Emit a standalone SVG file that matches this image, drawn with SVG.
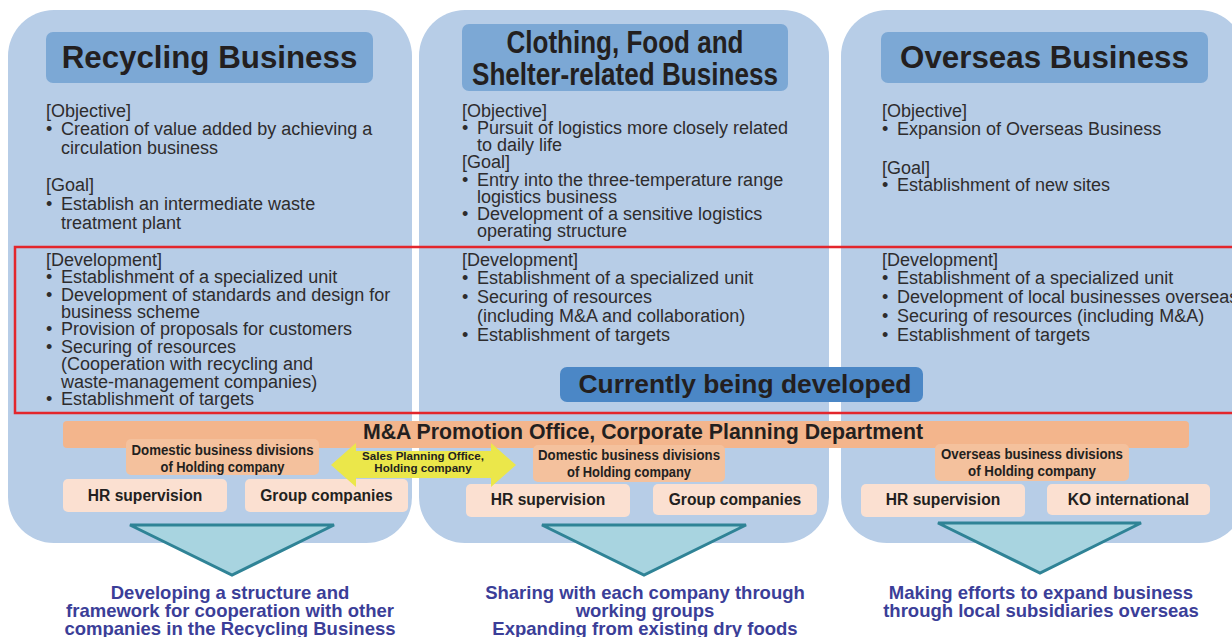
<svg xmlns="http://www.w3.org/2000/svg" width="1232" height="637" viewBox="0 0 1232 637">
  <style>
    .panel { fill: #b7cde7; }
    .title { fill: #7ca8d5; }
    .ttl { font-family: "Liberation Sans", Arial, sans-serif; font-weight: bold; font-size: 31.3px; fill: #231f20; text-anchor: middle; }
    .body { font-family: "Liberation Sans", Arial, sans-serif; font-size: 18px; fill: #2e2c2d; }
    .dom { fill: #f4c19d; }
    .sub { fill: #fbe0d1; }
    .small { font-family: "Liberation Sans", Arial, sans-serif; font-weight: bold; fill: #231f20; text-anchor: middle; }
    .tri { fill: #a8d4e0; stroke: #2f8396; stroke-width: 3; stroke-linejoin: miter; }
    .result { font-family: "Liberation Sans", Arial, sans-serif; font-weight: bold; font-size: 18.5px; fill: #3b3e98; text-anchor: middle; }
  </style>

  <rect x="0" y="0" width="1232" height="637" fill="#ffffff"/>

  <!-- Recycling Business column -->
  <g id="recycling">
    <rect class="panel" x="8" y="10" width="404" height="533" rx="46"/>
    <rect class="title" x="46" y="32" width="327" height="51" rx="7"/>
    <text class="ttl" x="209.5" y="68">Recycling Business</text>
    <g class="body">
      <text x="46" y="117">[Objective]</text>
      <text x="46" y="135">•<tspan x="61">Creation of value added by achieving a</tspan></text>
      <text x="61" y="154">circulation business</text>
      <text x="46" y="191">[Goal]</text>
      <text x="46" y="210">•<tspan x="61">Establish an intermediate waste</tspan></text>
      <text x="61" y="229">treatment plant</text>
      <text x="46" y="266">[Development]</text>
      <text x="46" y="283">•<tspan x="61">Establishment of a specialized unit</tspan></text>
      <text x="46" y="301">•<tspan x="61">Development of standards and design for</tspan></text>
      <text x="61" y="318">business scheme</text>
      <text x="46" y="335">•<tspan x="61">Provision of proposals for customers</tspan></text>
      <text x="46" y="353">•<tspan x="61">Securing of resources</tspan></text>
      <text x="61" y="370">(Cooperation with recycling and</text>
      <text x="61" y="388">waste-management companies)</text>
      <text x="46" y="405">•<tspan x="61">Establishment of targets</tspan></text>
    </g>
  </g>

  <!-- Clothing, Food and Shelter-related Business column -->
  <g id="clothing-food-shelter">
    <rect class="panel" x="419" y="10" width="410" height="533" rx="46"/>
    <rect class="title" x="462" y="24" width="326" height="67" rx="7"/>
    <text class="ttl" x="625" y="53" font-size="30" textLength="237" lengthAdjust="spacingAndGlyphs">Clothing, Food and</text>
    <text class="ttl" x="625" y="85" font-size="30" textLength="306" lengthAdjust="spacingAndGlyphs">Shelter-related Business</text>
    <g class="body">
      <text x="462" y="117">[Objective]</text>
      <text x="462" y="134">•<tspan x="477">Pursuit of logistics more closely related</tspan></text>
      <text x="477" y="151">to daily life</text>
      <text x="462" y="168">[Goal]</text>
      <text x="462" y="186">•<tspan x="477">Entry into the three-temperature range</tspan></text>
      <text x="477" y="203">logistics business</text>
      <text x="462" y="220">•<tspan x="477">Development of a sensitive logistics</tspan></text>
      <text x="477" y="237">operating structure</text>
      <text x="462" y="266">[Development]</text>
      <text x="462" y="284">•<tspan x="477">Establishment of a specialized unit</tspan></text>
      <text x="462" y="303">•<tspan x="477">Securing of resources</tspan></text>
      <text x="477" y="322">(including M&amp;A and collaboration)</text>
      <text x="462" y="341">•<tspan x="477">Establishment of targets</tspan></text>
    </g>
  </g>

  <!-- Overseas Business column -->
  <g id="overseas">
    <rect class="panel" x="841" y="10" width="404" height="533" rx="46"/>
    <rect class="title" x="881" y="32" width="327" height="51" rx="7"/>
    <text class="ttl" x="1044.5" y="68">Overseas Business</text>
    <g class="body">
      <text x="882" y="117">[Objective]</text>
      <text x="882" y="135">•<tspan x="897">Expansion of Overseas Business</tspan></text>
      <text x="882" y="174">[Goal]</text>
      <text x="882" y="191">•<tspan x="897">Establishment of new sites</tspan></text>
      <text x="882" y="266">[Development]</text>
      <text x="882" y="284">•<tspan x="897">Establishment of a specialized unit</tspan></text>
      <text x="882" y="303">•<tspan x="897">Development of local businesses overseas</tspan></text>
      <text x="882" y="322">•<tspan x="897">Securing of resources (including M&amp;A)</tspan></text>
      <text x="882" y="341">•<tspan x="897">Establishment of targets</tspan></text>
    </g>
  </g>

  <!-- Development band -->
  <g id="development-band">
    <rect x="15" y="247" width="1230" height="166" fill="none" stroke="#e3262c" stroke-width="2.5"/>
    <rect x="560" y="367" width="363" height="35" rx="7" fill="#4b87c6"/>
    <text class="small" x="745" y="393" font-size="26.4">Currently being developed</text>
  </g>

  <!-- Promotion office bar -->
  <g id="ma-office">
    <rect x="63" y="421" width="1126" height="27" rx="4" fill="#f3b58c"/>
    <text class="small" x="643" y="439" font-size="21.3">M&amp;A Promotion Office, Corporate Planning Department</text>
  </g>

  <!-- Recycling organisation -->
  <g id="recycling-domestic">
    <rect class="dom" x="126" y="439" width="193" height="36" rx="5"/>
    <text class="small" x="222.5" y="455" font-size="14" textLength="182" lengthAdjust="spacingAndGlyphs">Domestic business divisions</text>
    <text class="small" x="222.5" y="472" font-size="14" textLength="124" lengthAdjust="spacingAndGlyphs">of Holding company</text>
  </g>
  <g id="recycling-hr">
    <rect class="sub" x="63" y="479" width="164" height="33" rx="5"/>
    <text class="small" x="145" y="501" font-size="15.6">HR supervision</text>
  </g>
  <g id="recycling-group">
    <rect class="sub" x="245" y="479" width="163" height="33" rx="5"/>
    <text class="small" x="326.5" y="501" font-size="15.6">Group companies</text>
  </g>

  <!-- Clothing, food and shelter organisation -->
  <g id="cfs-domestic">
    <rect class="dom" x="533" y="445" width="192" height="37" rx="5"/>
    <text class="small" x="629" y="460" font-size="14" textLength="182" lengthAdjust="spacingAndGlyphs">Domestic business divisions</text>
    <text class="small" x="629" y="477" font-size="14" textLength="124" lengthAdjust="spacingAndGlyphs">of Holding company</text>
  </g>
  <g id="cfs-hr">
    <rect class="sub" x="466" y="484" width="164" height="33" rx="5"/>
    <text class="small" x="548" y="505" font-size="15.6">HR supervision</text>
  </g>
  <g id="cfs-group">
    <rect class="sub" x="653" y="484" width="164" height="31" rx="5"/>
    <text class="small" x="735" y="505" font-size="15.6">Group companies</text>
  </g>

  <!-- Overseas organisation -->
  <g id="overseas-divisions">
    <rect class="dom" x="935" y="444" width="194" height="37" rx="5"/>
    <text class="small" x="1032" y="459" font-size="14" textLength="182" lengthAdjust="spacingAndGlyphs">Overseas business divisions</text>
    <text class="small" x="1032" y="476" font-size="14" textLength="128" lengthAdjust="spacingAndGlyphs">of Holding company</text>
  </g>
  <g id="overseas-hr">
    <rect class="sub" x="861" y="484" width="164" height="33" rx="5"/>
    <text class="small" x="943" y="505" font-size="15.6">HR supervision</text>
  </g>
  <g id="ko-international">
    <rect class="sub" x="1047" y="484" width="163" height="31" rx="5"/>
    <text class="small" x="1128.5" y="505" font-size="15.6">KO international</text>
  </g>

  <!-- Connectors: liaison arrow and outcome arrows -->
  <g id="connectors">
    <g id="sales-planning-link">
      <polygon points="331,465 356,443 356,451 491,451 491,443 516,465 491,487 491,478 356,478 356,487" fill="#ebe74a"/>
      <text class="small" x="423" y="460" font-size="11.6">Sales Planning Office,</text>
      <text class="small" x="423" y="472" font-size="11.6">Holding company</text>
    </g>
    <polygon class="tri" points="130,525 334,525 232,575"/>
    <polygon class="tri" points="542,525 746,525 644,575"/>
    <polygon class="tri" points="938,523 1141,523 1040,573"/>
  </g>

  <!-- Outcomes -->
  <g id="outcome-recycling">
    <text class="result" x="230" y="599">Developing a structure and</text>
    <text class="result" x="230" y="617">framework for cooperation with other</text>
    <text class="result" x="230" y="635">companies in the Recycling Business</text>
  </g>
  <g id="outcome-cfs">
    <text class="result" x="645" y="599">Sharing with each company through</text>
    <text class="result" x="645" y="617">working groups</text>
    <text class="result" x="645" y="635">Expanding from existing dry foods</text>
  </g>
  <g id="outcome-overseas">
    <text class="result" x="1041" y="599">Making efforts to expand business</text>
    <text class="result" x="1041" y="617">through local subsidiaries overseas</text>
  </g>
</svg>
